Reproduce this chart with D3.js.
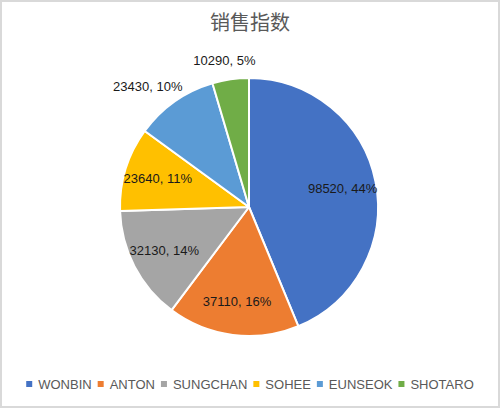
<!DOCTYPE html>
<html><head><meta charset="utf-8">
<script src="https://cdn.jsdelivr.net/npm/d3@7/dist/d3.min.js"></script>
<style>html,body{margin:0;padding:0;background:#fff}</style>
</head><body>
<svg id="chart" width="500" height="408"></svg>
<script>
const title = "销售指数";
const categories = ["WONBIN", "ANTON", "SUNGCHAN", "SOHEE", "EUNSEOK", "SHOTARO"];
const values = [98520, 37110, 32130, 23640, 23430, 10290];
const colors = ["#4472C4", "#ED7D31", "#A5A5A5", "#FFC000", "#5B9BD5", "#70AD47"];

const W = 500, H = 408;
const svg = d3.select("#chart");
svg.append("rect").attr("x", 1).attr("y", 1).attr("width", W - 2).attr("height", H - 2)
  .attr("fill", "#fff").attr("stroke", "#d9d9d9").attr("stroke-width", 2);

svg.append("text").attr("x", 250).attr("y", 30).attr("text-anchor", "middle")
  .attr("font-family", "'Noto Sans CJK SC', sans-serif").attr("font-size", 20)
  .attr("fill", "#595959").text(title);

const cx = 249, cy = 207, r = 129;
const total = d3.sum(values);
const data = categories.map((c, i) => ({ name: c, value: values[i], color: colors[i] }));
const pie = d3.pie().value(d => d.value).sort(null);
const arcs = pie(data);
const arc = d3.arc().innerRadius(0).outerRadius(r);
const g = svg.append("g").attr("transform", `translate(${cx},${cy})`);
g.selectAll("path").data(arcs).enter().append("path")
  .attr("d", arc).attr("fill", d => d.data.color)
  .attr("stroke", "#fff").attr("stroke-width", 2).attr("stroke-linejoin", "round");

const fmtPct = v => Math.round(v / total * 100) + "%";
const labelFont = "'Liberation Sans', Arial, sans-serif";
arcs.forEach(a => {
  const mid = (a.startAngle + a.endAngle) / 2;
  const dx = Math.sin(mid), dy = -Math.cos(mid);
  const span = a.endAngle - a.startAngle;
  const txt = `${a.data.value}, ${fmtPct(a.data.value)}`;
  const t = g.append("text").attr("font-family", labelFont).attr("font-size", 13)
    .attr("fill", "#1a1a1a").attr("text-anchor", "middle").attr("dominant-baseline", "central")
    .text(txt);
  // labels sit inside when the slice is wide enough and not in the upper-left crowded region
  const inside = span > 0.657;
  if (inside) {
    const lr = r * 0.74;
    t.attr("x", dx * lr).attr("y", dy * lr);
  } else {
    const bw = t.node().getComputedTextLength();
    const pr = r + 12;
    t.attr("x", dx * pr + dx * bw / 2).attr("y", dy * pr + dy * 7);
  }
});

// legend
const leg = svg.append("g");
let x = 0;
const mk = 6, gap = 6, spacing = 6;
data.forEach((d, i) => {
  const it = leg.append("g");
  it.append("rect").attr("width", mk).attr("height", mk).attr("y", -mk / 2).attr("fill", d.color);
  const t = it.append("text").attr("x", mk + gap).attr("dominant-baseline", "central")
    .attr("font-family", labelFont).attr("font-size", 13).attr("fill", "#595959").text(d.name);
  const w = mk + gap + t.node().getComputedTextLength();
  it.attr("transform", `translate(${x},0)`);
  x += w + spacing;
});
const totalW = x - spacing;
leg.attr("transform", `translate(${250 - totalW / 2},384)`);
</script>
</body></html>
